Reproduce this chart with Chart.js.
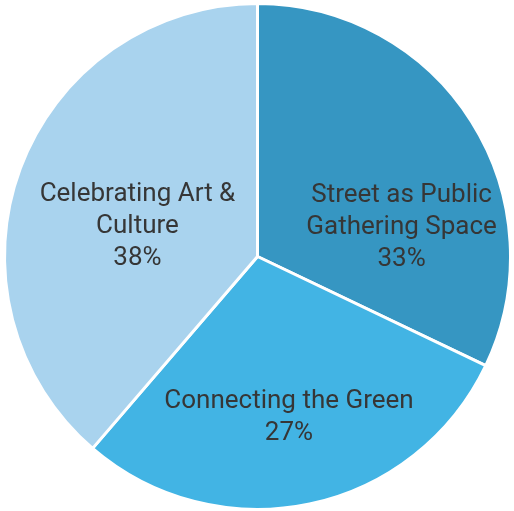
<!DOCTYPE html>
<html>
<head>
<meta charset="utf-8">
<script src="https://cdn.jsdelivr.net/npm/chart.js@4/dist/chart.umd.min.js"></script>
<style>
html,body{margin:0;padding:0;background:#fff;}
#c{display:block;}
</style>
</head>
<body>
<canvas id="c" width="514" height="511"></canvas>
<script>
// Data
const categories = [
  ["Street as Public", "Gathering Space"],
  ["Connecting the Green"],
  ["Celebrating Art &", "Culture"]
];
const sliceValues = [32.1, 29.2, 38.7];
const percentLabels = ["33%", "27%", "38%"];
const sliceColors = ["#3696c2", "#42b4e4", "#a9d3ee"];

// Label placement (angle offset from slice middle in degrees, radius fraction)
const labelPlacement = [
  { dAngle: 19.9, rFrac: 0.583 },
  { dAngle: 0.7, rFrac: 0.642 },
  { dAngle: -5.4, rFrac: 0.491 }
];

const sliceLabelPlugin = {
  id: 'sliceLabels',
  afterDatasetsDraw(chart) {
    const ctx = chart.ctx;
    const meta = chart.getDatasetMeta(0);
    ctx.save();
    ctx.fillStyle = '#363636';
    ctx.font = '26px Roboto';
    ctx.textAlign = 'center';
    ctx.textBaseline = 'middle';
    const lh = 32;
    meta.data.forEach((arc, i) => {
      const p = arc.getProps(['x', 'y', 'startAngle', 'endAngle', 'outerRadius'], true);
      const mid = (p.startAngle + p.endAngle) / 2 + labelPlacement[i].dAngle * Math.PI / 180;
      const r = p.outerRadius * labelPlacement[i].rFrac;
      const cx = p.x + Math.cos(mid) * r;
      const cy = p.y + Math.sin(mid) * r + 2;
      const lines = categories[i].concat([percentLabels[i]]);
      const top = cy - (lines.length - 1) * lh / 2;
      lines.forEach((t, j) => ctx.fillText(t, cx, top + j * lh));
    });
    ctx.restore();
  }
};

new Chart(document.getElementById('c'), {
  type: 'pie',
  data: {
    labels: categories.map(c => c.join(' ')),
    datasets: [{
      data: sliceValues,
      backgroundColor: sliceColors,
      borderColor: '#ffffff',
      borderWidth: 3
    }]
  },
  options: {
    responsive: false,
    animation: false,
    layout: { padding: { top: 2, left: 1 } },
    plugins: {
      legend: { display: false },
      tooltip: { enabled: false }
    }
  },
  plugins: [sliceLabelPlugin]
});
</script>
</body>
</html>
